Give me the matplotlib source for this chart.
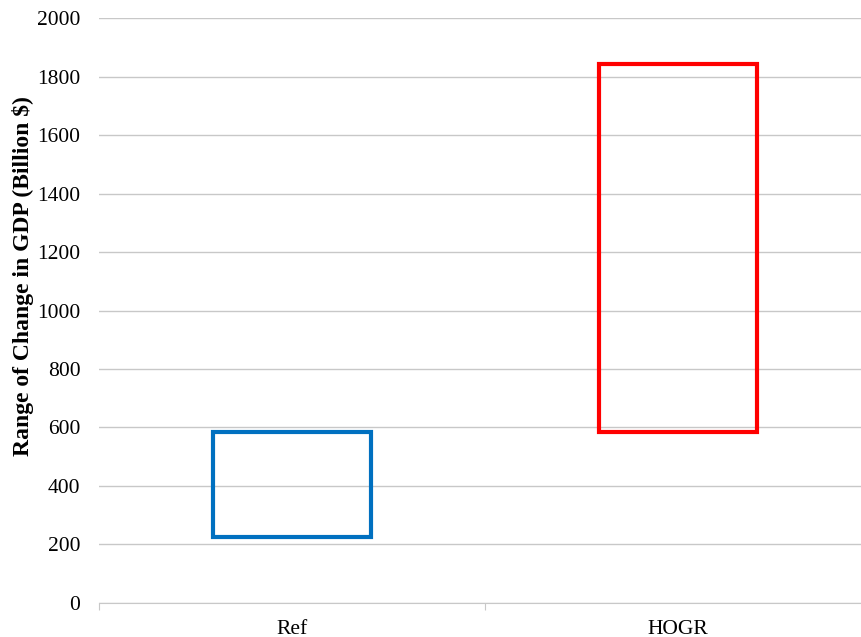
import matplotlib
matplotlib.use("Agg")
import matplotlib.pyplot as plt

# donnees
categories = ["Ref", "HOGR"]
bas = [226, 583]      # bas de chaque boite
haut = [583, 1843]    # haut de chaque boite
couleurs = ["#0070C0", "#FF0000"]

plt.rcParams['font.family'] = ['Liberation Serif', 'DejaVu Serif']

fig = plt.figure(figsize=(8.61, 6.37), dpi=100)
ax = fig.add_axes([0.115, 0.0534, 0.8966, 0.9183])

pos = [i + 0.5 for i in range(len(categories))]
hauteurs = [h - b for h, b in zip(haut, bas)]
ax.bar(pos, hauteurs, bottom=bas, width=0.407, fill=False,
       edgecolor=couleurs, linewidth=3, zorder=3)

ax.set_xlim(0, 2)
ax.set_ylim(0, 2000)
ax.set_yticks(range(0, 2001, 200))
ax.yaxis.grid(True, color="#C8C8C8", linewidth=1)
ax.set_axisbelow(True)

# ticks majeurs aux frontieres, etiquettes au centre
ax.set_xticks([0, 1, 2])
ax.set_xticklabels([])
ax.set_xticks(pos, minor=True)
ax.set_xticklabels(categories, minor=True, fontsize=15.5)
ax.tick_params(axis="x", which="major", length=5, color="#C8C8C8")
ax.tick_params(axis="x", which="minor", length=0, pad=12)
ax.tick_params(axis="y", length=0, labelsize=15.5, pad=13.5)

for s in ["top", "right", "left"]:
    ax.spines[s].set_visible(False)
ax.spines["bottom"].set_color("#C8C8C8")

ax.set_ylabel("Range of Change in GDP (Billion $)", fontsize=17, fontweight="bold")
ax.yaxis.set_label_coords(-0.084, 0.559)

fig.savefig("out.png", dpi=100)
